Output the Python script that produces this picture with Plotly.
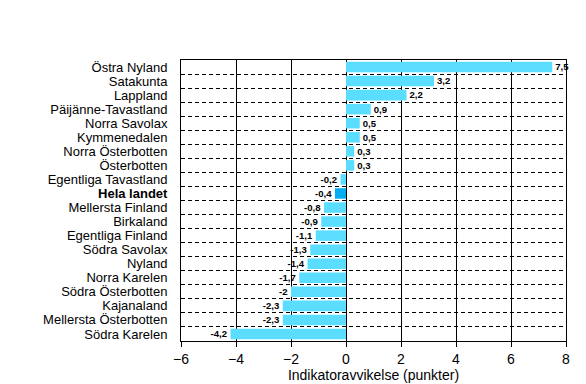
import plotly.graph_objects as go

regions = ["Östra Nyland", "Satakunta", "Lappland", "Päijänne-Tavastland", "Norra Savolax",
           "Kymmenedalen", "Norra Österbotten", "Österbotten", "Egentliga Tavastland", "Hela landet",
           "Mellersta Finland", "Birkaland", "Egentliga Finland", "Södra Savolax", "Nyland",
           "Norra Karelen", "Södra Österbotten", "Kajanaland", "Mellersta Österbotten", "Södra Karelen"]
values = [7.5, 3.2, 2.2, 0.9, 0.5, 0.5, 0.3, 0.3, -0.2, -0.4,
          -0.8, -0.9, -1.1, -1.3, -1.4, -1.7, -2, -2.3, -2.3, -4.2]
x_ticks = [-6, -4, -2, 0, 2, 4, 6, 8]

highlight = "Hela landet"
colors = ["#00AEEF" if r == highlight else "#5BDDFF" for r in regions]
labels = ["<b>%s</b>" % ("%g" % v).replace(".", ",") for v in values]
ticktext = ["<b>%s</b>" % r if r == highlight else r for r in regions]

fig = go.Figure(go.Bar(
    x=values, y=regions, orientation="h",
    marker=dict(color=colors, line=dict(width=0)),
    width=0.75,
    text=labels, textposition="outside",
    textfont=dict(family="Arial", size=10, color="black"),
    cliponaxis=False,
))

fig.update_layout(
    width=578, height=376,
    margin=dict(l=173, r=20, t=52, b=43, autoexpand=False),
    paper_bgcolor="white", plot_bgcolor="white",
    font=dict(family="Arial", color="black", size=14),
    showlegend=False,
    xaxis=dict(
        range=[-6, 8], tickvals=x_ticks, ticks="outside", ticklen=5, tickcolor="black",
        showline=True, linecolor="black", linewidth=1, mirror=True,
        showgrid=True, gridcolor="black", gridwidth=1,
        zeroline=True, zerolinecolor="black", zerolinewidth=1,
        title=dict(text="Indikatoravvikelse (punkter)", font=dict(size=14), standoff=4),
        tickfont=dict(size=14),
        automargin=False,
    ),
    yaxis=dict(
        type="category", categoryorder="array", categoryarray=regions,
        autorange="reversed",
        tickvals=regions, ticktext=ticktext,
        tickson="boundaries", ticks="",
        ticklabelstandoff=10,
        showgrid=True, gridcolor="black", gridwidth=1, griddash="4px,3px",
        showline=True, linecolor="black", linewidth=1, mirror=True,
        tickfont=dict(size=13),
        automargin=False,
    ),
)

fig.write_html("out.html")
